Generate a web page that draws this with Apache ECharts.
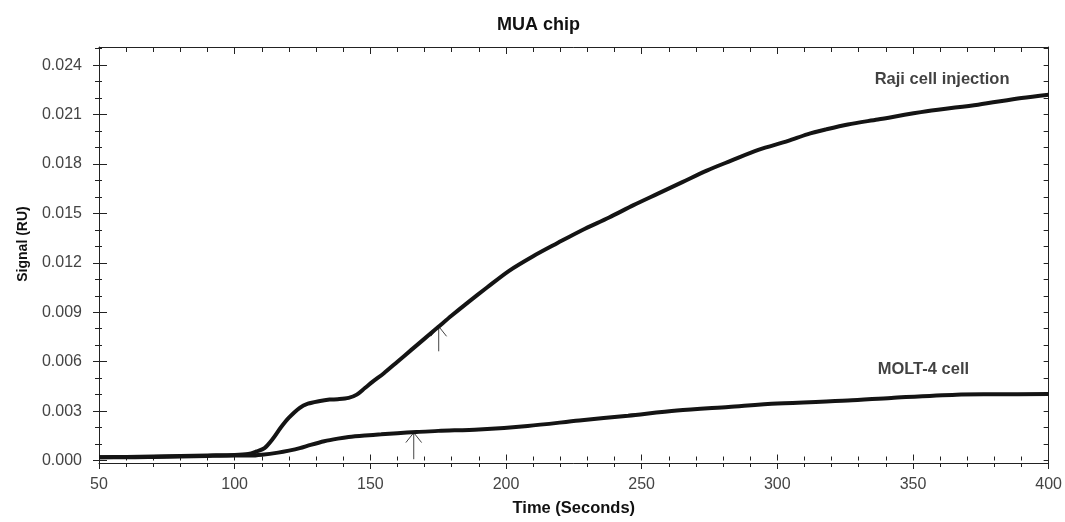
<!DOCTYPE html>
<html><head><meta charset="utf-8">
<script src="https://cdn.jsdelivr.net/npm/echarts@6/dist/echarts.min.js"></script>
<style>html,body{margin:0;padding:0;background:#fff}#c{width:1065px;height:522px}</style>
</head><body><div id="c"></div>
<script>
// ---- data ----
var rajiT = [50,60,70,80,90,100,105,108,111,114,117,120,124,127,131,135,138,142,145,148,151,155,160,165,170,175,180,186,193,201,210,219,228,238,247,256,265,274,283,293,304,311,318,326,337,355,374,390,400];
var rajiV = [0.00020,0.00022,0.00025,0.00028,0.00031,0.00034,0.00040,0.00055,0.00075,0.0013,0.0020,0.0026,0.0032,0.00345,0.0036,0.0037,0.00372,0.0038,0.0040,0.0044,0.0048,0.0053,0.0060,0.0067,0.0074,0.0081,0.0088,0.0096,0.0105,0.0115,0.0124,0.0132,0.01398,0.01475,0.0155,0.0162,0.0169,0.0176,0.0182,0.01885,0.0194,0.0198,0.0201,0.0204,0.0207,0.0212,0.0216,0.0220,0.0222];
var moltT = [50,60,70,80,90,100,106,110,116,120,124,128,133,138,142,148,154,160,167,175,190,208,227,245,263,282,300,326,342,366,380,400];
var moltV = [0.00020,0.00020,0.00022,0.00025,0.00028,0.00030,0.00030,0.00035,0.00048,0.00060,0.00075,0.00095,0.00117,0.00133,0.00143,0.00152,0.00159,0.00166,0.00173,0.00180,0.00189,0.00210,0.00243,0.00272,0.00303,0.00325,0.00346,0.00364,0.00380,0.00400,0.00402,0.00404];
var yTicks = [0,0.003,0.006,0.009,0.012,0.015,0.018,0.021,0.024];
var xTicks = [50,100,150,200,250,300,350,400];
var arrowX = [175.2,166.0];
var arrowTail = [0.00663,0.00008];
var arrowTip = [0.00814,0.00169];
var labelText = ['Raji cell injection','MOLT-4 cell'];
var labelT = [335.7,336.8];
var labelV = [0.0231,0.0055];

// ---- build ----
function zip(a,b){return a.map(function(v,i){return [v,b[i]];});}
var yMinor = [], yAll = [];
for (var k=0;k<=25;k++){ var v=+(k*0.001).toFixed(3); yAll.push(v); if(k%3!==0) yMinor.push(v); }
var yMin=-0.00015, yMax=0.0251;
var lineCol='#222';
function yAx(opt){
  var base={type:'value',min:yMin,max:yMax,position:'left',splitLine:{show:false},
    axisLine:{show:false},axisLabel:{show:false},axisTick:{show:false}};
  for (var key in opt) base[key]=opt[key];
  return base;
}
function xAx(opt){
  var base={type:'value',min:xTicks[0],max:xTicks[xTicks.length-1],interval:50,position:'bottom',splitLine:{show:false},
    axisLine:{show:false},axisLabel:{show:false},axisTick:{show:false},minorTick:{show:false}};
  for (var key in opt) base[key]=opt[key];
  return base;
}
var headDx=2.9, headDy=0.0006;
var arrowData=[];
arrowX.forEach(function(x,i){
  arrowData.push({coords:[[x,arrowTail[i]],[x,arrowTip[i]]]});
  arrowData.push({coords:[[x-headDx,arrowTip[i]-headDy],[x,arrowTip[i]],[x+headDx,arrowTip[i]-headDy]]});
});
var font='Liberation Sans, Arial, sans-serif';
var chart=echarts.init(document.getElementById('c'),null,{renderer:'canvas'});
chart.setOption({
  animation:false,
  backgroundColor:'#fff',
  title:{text:'MUA chip',left:497,top:16,padding:0,textStyle:{fontFamily:font,fontSize:18,fontWeight:'bold',color:'#111'}},
  grid:{left:99,right:13,top:47,bottom:57},
  xAxis:[
    xAx({axisLine:{show:true,onZero:false,lineStyle:{color:lineCol,width:1}},
      axisTick:{show:true,inside:false,length:6,lineStyle:{color:lineCol}},
      minorTick:{show:true,splitNumber:5,length:4,lineStyle:{color:lineCol}},
      axisLabel:{show:true,margin:14,fontFamily:font,fontSize:16,color:'#444'},
      name:'Time (Seconds)',nameLocation:'middle',nameGap:37,
      nameTextStyle:{fontFamily:font,fontSize:16.5,fontWeight:'bold',color:'#111'}}),
    xAx({axisTick:{show:true,inside:true,length:6,lineStyle:{color:lineCol}},
      minorTick:{show:true,splitNumber:5,length:4,lineStyle:{color:lineCol}}}),
    xAx({position:'top',axisLine:{show:true,onZero:false,lineStyle:{color:lineCol,width:1}},
      axisTick:{show:true,inside:true,length:7,lineStyle:{color:lineCol}},
      minorTick:{show:true,splitNumber:5,length:5,lineStyle:{color:lineCol}}})
  ],
  yAxis:[
    yAx({axisLine:{show:true,onZero:false,lineStyle:{color:lineCol,width:1}},
      axisTick:{show:true,inside:false,length:6,customValues:yTicks,lineStyle:{color:lineCol}},
      axisLabel:{show:true,customValues:yTicks,margin:17,fontFamily:font,fontSize:16,color:'#444',
        formatter:function(v){return v.toFixed(3);}},
      name:'Signal (RU)',nameLocation:'middle',nameGap:69,nameRotate:90,
      nameTextStyle:{fontFamily:font,fontSize:14,fontWeight:'bold',color:'#111',padding:[0,0,0,22]}}),
    yAx({axisTick:{show:true,inside:true,length:8,customValues:yTicks,lineStyle:{color:lineCol}}}),
    yAx({axisTick:{show:true,inside:false,length:4,customValues:yMinor,lineStyle:{color:lineCol}}}),
    yAx({axisTick:{show:true,inside:true,length:3,customValues:yMinor,lineStyle:{color:lineCol}}}),
    yAx({position:'right',axisLine:{show:true,onZero:false,lineStyle:{color:lineCol,width:1}},
      axisTick:{show:true,inside:true,length:5,customValues:yAll,lineStyle:{color:lineCol}}})
  ],
  series:[
    {type:'line',name:'Raji',data:zip(rajiT,rajiV),xAxisIndex:0,yAxisIndex:0,showSymbol:false,smooth:0.3,
      lineStyle:{color:'#141414',width:4},z:5},
    {type:'line',name:'MOLT-4',data:zip(moltT,moltV),xAxisIndex:0,yAxisIndex:0,showSymbol:false,smooth:0.3,
      lineStyle:{color:'#141414',width:4},z:5},
    {type:'lines',coordinateSystem:'cartesian2d',xAxisIndex:0,yAxisIndex:0,polyline:true,data:arrowData,
      lineStyle:{color:'#444',width:1,opacity:1},z:4},
    {type:'scatter',xAxisIndex:0,yAxisIndex:0,symbolSize:1,itemStyle:{color:'rgba(0,0,0,0)'},
      data:labelT.map(function(t,i){return {value:[t,labelV[i]],name:labelText[i]};}),
      label:{show:true,position:'right',distance:0,formatter:function(p){return p.name;},
        fontFamily:font,fontSize:16.5,fontWeight:'bold',color:'#111'},z:6}
  ]
});
</script></body></html>
